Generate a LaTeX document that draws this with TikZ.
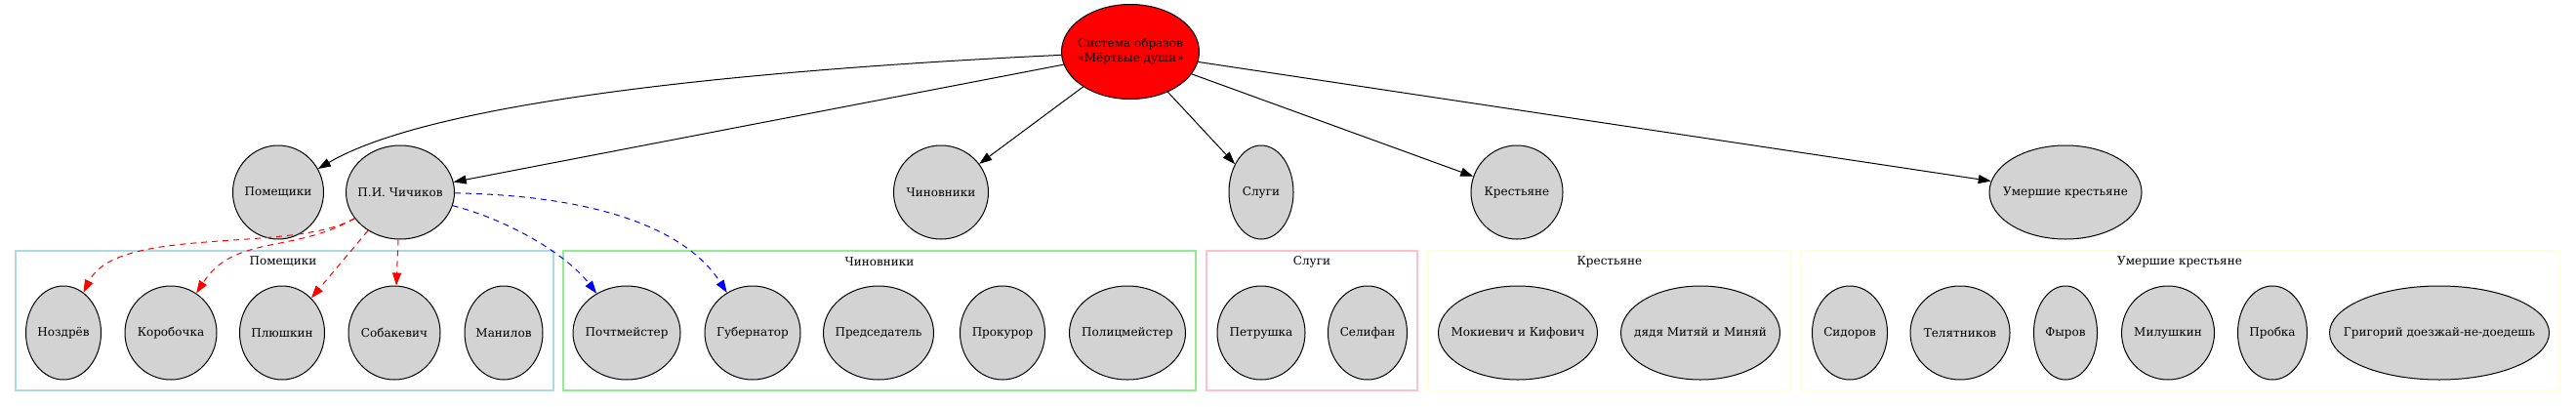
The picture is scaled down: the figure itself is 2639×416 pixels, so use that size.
\documentclass[tikz,border=0pt]{standalone}
\usepackage{fontspec}
\setmainfont{DejaVu Serif}
\usetikzlibrary{shapes.geometric, arrows.meta, positioning}
\definecolor{nodegray}{HTML}{D3D3D3}
\definecolor{clblue}{HTML}{ADD8E6}
\definecolor{clgreen}{HTML}{90EE90}
\definecolor{clpink}{HTML}{FFC0CB}
\definecolor{clyellow}{HTML}{FFFFE0}
\newcommand{\charname}[1]{\makebox[0pt]{#1}}

\begin{document}
\begin{tikzpicture}[x=1pt,y=-1pt,>={Triangle[length=13pt,width=9pt]},
  every node/.style={font=\fontsize{12}{15}\selectfont},
  hero/.style={ellipse, draw, line width=1pt, fill=nodegray, inner sep=0pt, minimum height=96pt, minimum width=#1},
  grp/.style={draw=#1, line width=1.2pt},
  link/.style={->, line width=1pt},
  redlink/.style={->, red, line width=1pt, dash pattern=on 6pt off 5pt},
  bluelink/.style={->, blue, line width=1pt, dash pattern=on 6pt off 5pt}]
\useasboundingbox (0,0) rectangle (2639,416);
% The clusters
\draw[grp=clblue] (16,257) rectangle (567,400);
\node (lpom) at (290,268) {Помещики};
\draw[grp=clgreen] (577,257) rectangle (1225,400);
\node (lchin) at (901,268) {Чиновники};
\draw[grp=clpink] (1236,257) rectangle (1452,400);
\node (lslug) at (1344,268) {Слуги};
\draw[grp=clyellow] (1463,257) rectangle (1835,400);
\node (lkrest) at (1649,268) {Крестьяне};
\draw[grp=clyellow] (1845,257) rectangle (2622,400);
\node (lumer) at (2233,268) {Умершие крестьяне};
% Root
\node (root) at (1158,53) [hero=141pt, minimum height=97pt, fill=red] {\charname{\begin{tabular}{@{}c@{}}Система образов\\«Мёртвые души»\end{tabular}}};
% Groups
\node (pom) at (285,197) [hero=93pt] {\charname{Помещики}};
\node (chich) at (410,197) [hero=111pt] {\charname{П.И. Чичиков}};
\node (chin) at (964,197) [hero=97pt] {\charname{Чиновники}};
\node (slug) at (1292,197) [hero=66pt] {\charname{Слуги}};
\node (krest) at (1554,197) [hero=94pt] {\charname{Крестьяне}};
\node (umer) at (2116,197) [hero=156pt] {\charname{Умершие крестьяне}};
% Characters
\node (nozd) at (65,341) [hero=77pt] {\charname{Ноздрёв}};
\node (korob) at (175,341) [hero=94pt] {\charname{Коробочка}};
\node (plyush) at (289,341) [hero=87pt] {\charname{Плюшкин}};
\node (sobak) at (404,341) [hero=94pt] {\charname{Собакевич}};
\node (manil) at (516,341) [hero=80pt] {\charname{Манилов}};
\node (pocht) at (642,341) [hero=110pt] {\charname{Почтмейстер}};
\node (gub) at (771,341) [hero=98pt] {\charname{Губернатор}};
\node (pred) at (900,341) [hero=113pt] {\charname{Председатель}};
\node (prok) at (1027,341) [hero=87pt] {\charname{Прокурор}};
\node (polic) at (1155,341) [hero=119pt] {\charname{Полицмейстер}};
\node (petr) at (1292,341) [hero=90pt] {\charname{Петрушка}};
\node (selif) at (1401,341) [hero=81pt] {\charname{Селифан}};
\node (mok) at (1555,341) [hero=163pt] {\charname{Мокиевич и Кифович}};
\node (dyadya) at (1742,341) [hero=163pt] {\charname{дядя Митяй и Миняй}};
\node (sid) at (1895,341) [hero=77pt] {\charname{Сидоров}};
\node (tel) at (2008,341) [hero=102pt] {\charname{Телятников}};
\node (fyr) at (2116,341) [hero=65pt] {\charname{Фыров}};
\node (mil) at (2221,341) [hero=95pt] {\charname{Милушкин}};
\node (prob) at (2328,341) [hero=71pt] {\charname{Пробка}};
\node (grig) at (2499,341) [hero=225pt] {\charname{Григорий доезжай-не-доедешь}};
% Edges from the root
\draw[link] (root) .. controls (800,70) and (450,100) .. (pom);
\draw[link] (root) -- (chich);
\draw[link] (root) -- (chin);
\draw[link] (root) -- (slug);
\draw[link] (root) -- (krest);
\draw[link] (root) -- (umer);
% Chichikov visits
\draw[redlink] (chich) .. controls (300,260) and (120,230) .. (nozd);
\draw[redlink] (chich) .. controls (300,260) and (240,240) .. (korob);
\draw[redlink] (chich) -- (plyush);
\draw[redlink] (chich) -- (sobak);
\draw[bluelink] (chich) .. controls (520,225) and (580,260) .. (pocht);
\draw[bluelink] (chich) .. controls (600,200) and (700,230) .. (gub);
\end{tikzpicture}
\end{document}
